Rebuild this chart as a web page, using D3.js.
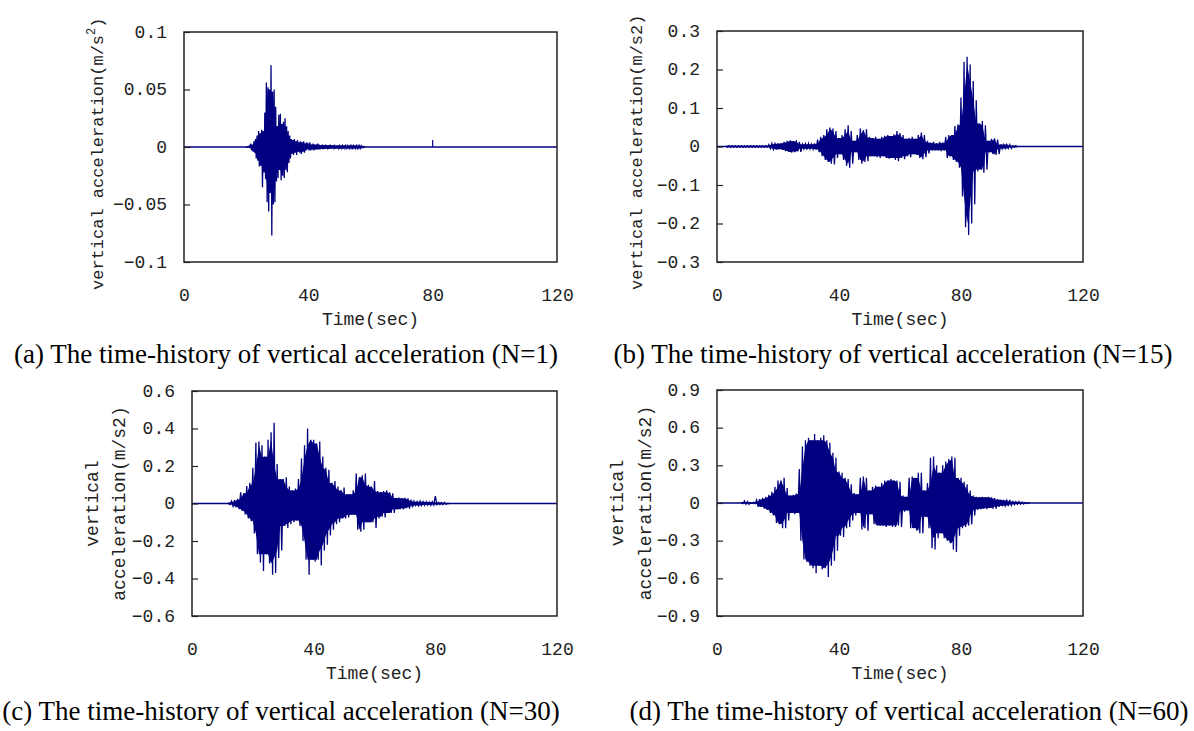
<!DOCTYPE html>
<html>
<head>
<meta charset="utf-8">
<script src="https://cdn.jsdelivr.net/npm/d3@7"></script>
<style>
body { margin: 0; background: #fff; }
svg { display: block; }
.tick text { font-family: "Liberation Mono", monospace; font-size: 18px; fill: #222; }
.axis-label { font-family: "Liberation Mono", monospace; font-size: 18px; fill: #222; }
.caption { font-family: "Liberation Serif", "Times New Roman", serif; font-size: 27px; fill: #000; }
</style>
</head>
<body>
<svg id="chart" width="1194" height="731"></svg>
<script>
//time axis
var timeTicks = [0, 40, 80, 120];

//(a) N=1 : envelope peaks, every 0.5 s from 20 s
var startA = 20, stepA = 0.5;
var hiA = [0, 0, 0.001, 0.003, 0.002, 0.005, 0.007, 0.010, 0.014, 0.012,
    0.015, 0.014, 0.030, 0.056, 0.052, 0.050, 0.071, 0.048, 0.050, 0.035,
    0.018, 0.028, 0.029, 0.020, 0.022, 0.025, 0.018, 0.014, 0.010, 0.007,
    0.006, 0.007, 0.005, 0.006, 0.004, 0.005, 0.004, 0.005, 0.003, 0.004,
    0.003, 0.004, 0.002, 0.003, 0.002, 0.002, 0.003, 0.002, 0.0015, 0.002,
    0.0015, 0.002, 0.0015, 0.0015, 0.002, 0.0015, 0.0015, 0.001, 0.0015, 0.0015,
    0.001, 0.0015, 0.001, 0.0015, 0.001, 0.001, 0.0015, 0.001, 0.001, 0.001,
    0.0015, 0.001, 0.001, 0.001, 0.001, 0.0005, 0];
var loA = [0, 0, -0.001, -0.003, -0.004, -0.005, -0.010, -0.012, -0.017, -0.016,
    -0.035, -0.022, -0.028, -0.048, -0.056, -0.040, -0.077, -0.050, -0.048, -0.030,
    -0.027, -0.020, -0.029, -0.025, -0.027, -0.020, -0.022, -0.014, -0.010, -0.006,
    -0.007, -0.005, -0.007, -0.004, -0.005, -0.006, -0.004, -0.005, -0.003, -0.002,
    -0.003, -0.003, -0.002, -0.003, -0.002, -0.002, -0.002, -0.002, -0.0015, -0.002,
    -0.0015, -0.0015, -0.002, -0.0015, -0.0015, -0.0015, -0.001, -0.0015, -0.0015, -0.001,
    -0.0015, -0.001, -0.0015, -0.001, -0.001, -0.0015, -0.001, -0.001, -0.001, -0.0015,
    -0.001, -0.001, -0.001, -0.001, -0.0005, -0.0005, 0];
var spikesA = [[80, 0.006]];
var yTicksA = [0.1, 0.05, 0, -0.05, -0.1];

//(b) N=15 : every 1 s from 3 s
var startB = 3, stepB = 1;
var hiB = [0.002, 0.002, 0.002, 0.002, 0.002, 0.002, 0.002, 0.002, 0.002, 0.002,
    0.002, 0.002, 0.002, 0.002, 0.005, 0.008, 0.007, 0.008, 0.009, 0.012,
    0.015, 0.016, 0.014, 0.016, 0.012, 0.006, 0.007, 0.008, 0.006, 0.008,
    0.018, 0.025, 0.030, 0.045, 0.049, 0.047, 0.040, 0.022, 0.030, 0.045,
    0.055, 0.040, 0.015, 0.030, 0.047, 0.042, 0.045, 0.025, 0.022, 0.025,
    0.020, 0.025, 0.028, 0.030, 0.027, 0.032, 0.040, 0.035, 0.030, 0.020,
    0.022, 0.025, 0.020, 0.030, 0.036, 0.030, 0.015, 0.010, 0.012, 0.008,
    0.012, 0.010, 0.025, 0.030, 0.030, 0.053, 0.058, 0.127, 0.220, 0.233,
    0.213, 0.170, 0.120, 0.060, 0.066, 0.055, 0.015, 0.020, 0.021, 0.018,
    0.005, 0.005, 0.005, 0.005, 0.002, 0.002];
var loB = [-0.002, -0.002, -0.002, -0.002, -0.002, -0.002, -0.002, -0.002, -0.002, -0.002,
    -0.002, -0.002, -0.002, -0.002, -0.005, -0.007, -0.008, -0.007, -0.009, -0.012,
    -0.014, -0.016, -0.015, -0.013, -0.014, -0.006, -0.008, -0.006, -0.007, -0.008,
    -0.015, -0.025, -0.035, -0.040, -0.045, -0.047, -0.030, -0.020, -0.035, -0.050,
    -0.055, -0.045, -0.015, -0.035, -0.045, -0.040, -0.038, -0.025, -0.025, -0.028,
    -0.030, -0.025, -0.030, -0.032, -0.030, -0.035, -0.038, -0.030, -0.033, -0.025,
    -0.028, -0.020, -0.022, -0.030, -0.033, -0.028, -0.018, -0.010, -0.010, -0.010,
    -0.012, -0.010, -0.030, -0.025, -0.035, -0.040, -0.055, -0.130, -0.210, -0.230,
    -0.200, -0.150, -0.065, -0.060, -0.068, -0.060, -0.015, -0.020, -0.022, -0.020,
    -0.006, -0.005, -0.005, -0.005, -0.002, -0.002];
var spikesB = [];
var yTicksB = [0.3, 0.2, 0.1, 0, -0.1, -0.2, -0.3];

//(c) N=30 : every 1 s from 12 s
var startC = 12, stepC = 1;
var hiC = [0.005, 0.013, 0.018, 0.025, 0.060, 0.055, 0.093, 0.110, 0.190, 0.325,
    0.330, 0.310, 0.250, 0.340, 0.380, 0.430, 0.210, 0.130, 0.130, 0.140,
    0.090, 0.070, 0.080, 0.130, 0.240, 0.310, 0.400, 0.340, 0.340, 0.320,
    0.330, 0.250, 0.190, 0.180, 0.110, 0.120, 0.090, 0.070, 0.085, 0.050,
    0.050, 0.070, 0.160, 0.140, 0.150, 0.160, 0.100, 0.090, 0.120, 0.067,
    0.060, 0.067, 0.070, 0.060, 0.055, 0.030, 0.031, 0.028, 0.030, 0.027,
    0.020, 0.012, 0.010, 0.012, 0.010, 0.010, 0.008, 0.010, 0.040, 0.006,
    0.005, 0.006, 0];
var loC = [-0.005, -0.015, -0.020, -0.030, -0.040, -0.058, -0.080, -0.095, -0.160, -0.270,
    -0.315, -0.360, -0.270, -0.320, -0.380, -0.370, -0.290, -0.250, -0.120, -0.130,
    -0.110, -0.100, -0.090, -0.120, -0.200, -0.300, -0.380, -0.300, -0.310, -0.300,
    -0.330, -0.250, -0.220, -0.170, -0.140, -0.110, -0.100, -0.080, -0.080, -0.075,
    -0.060, -0.060, -0.140, -0.150, -0.140, -0.100, -0.100, -0.100, -0.130, -0.080,
    -0.070, -0.075, -0.050, -0.050, -0.050, -0.030, -0.030, -0.032, -0.025, -0.027,
    -0.020, -0.010, -0.012, -0.010, -0.010, -0.008, -0.010, -0.008, -0.006, -0.005,
    -0.006, -0.005, 0];
var spikesC = [];
var yTicksC = [0.6, 0.4, 0.2, 0, -0.2, -0.4, -0.6];

//(d) N=60 : every 1 s from 8 s
var startD = 8, stepD = 1;
var hiD = [0.005, 0.016, 0.012, 0.004, 0.005, 0.025, 0.030, 0.040, 0.050, 0.065,
    0.090, 0.130, 0.180, 0.180, 0.200, 0.120, 0.060, 0.065, 0.075, 0.270,
    0.450, 0.500, 0.520, 0.500, 0.550, 0.500, 0.520, 0.540, 0.500, 0.480,
    0.400, 0.360, 0.250, 0.240, 0.200, 0.190, 0.150, 0.080, 0.070, 0.200,
    0.210, 0.200, 0.100, 0.130, 0.140, 0.130, 0.160, 0.180, 0.180, 0.190,
    0.180, 0.180, 0.170, 0.060, 0.050, 0.200, 0.210, 0.200, 0.240, 0.240,
    0.100, 0.160, 0.360, 0.370, 0.300, 0.240, 0.300, 0.330, 0.350, 0.370,
    0.360, 0.200, 0.200, 0.170, 0.150, 0.100, 0.060, 0.050, 0.045, 0.050,
    0.045, 0.050, 0.045, 0.040, 0.030, 0.025, 0.025, 0.020, 0.025, 0.012,
    0.010, 0.012, 0.008, 0.004, 0];
var loD = [-0.005, -0.010, -0.010, -0.004, -0.005, -0.030, -0.030, -0.045, -0.055, -0.080,
    -0.100, -0.160, -0.170, -0.200, -0.200, -0.140, -0.080, -0.090, -0.080, -0.300,
    -0.450, -0.470, -0.500, -0.520, -0.560, -0.500, -0.530, -0.520, -0.590, -0.500,
    -0.460, -0.380, -0.260, -0.270, -0.200, -0.190, -0.140, -0.100, -0.080, -0.210,
    -0.200, -0.220, -0.090, -0.170, -0.180, -0.180, -0.180, -0.190, -0.180, -0.190,
    -0.190, -0.180, -0.190, -0.070, -0.060, -0.200, -0.200, -0.220, -0.240, -0.240,
    -0.110, -0.200, -0.360, -0.370, -0.280, -0.240, -0.280, -0.300, -0.320, -0.370,
    -0.390, -0.260, -0.200, -0.190, -0.180, -0.170, -0.100, -0.055, -0.050, -0.045,
    -0.050, -0.040, -0.045, -0.045, -0.030, -0.025, -0.022, -0.025, -0.020, -0.012,
    -0.010, -0.010, -0.008, -0.004, 0];
var spikesD = [];
var yTicksD = [0.9, 0.6, 0.3, 0, -0.3, -0.6, -0.9];

var lineColor = '#000080';
var svg = d3.select('#chart');

var panels = [
    {t0: startA, dt: stepA, hi: hiA, lo: loA, spikes: spikesA, yTicks: yTicksA,
     box: {left: 184, top: 32, right: 557, bottom: 262},
     yLabel: [['vertical acceleration(m/s', '2', ')']], yLabelX: [98], yLabelStart: 290, yLabelSize: 17,
     caption: '(a) The time-history of vertical acceleration (N=1)', capX: 286, capY: 363},
    {t0: startB, dt: stepB, hi: hiB, lo: loB, spikes: spikesB, yTicks: yTicksB,
     box: {left: 717, top: 31, right: 1083, bottom: 262},
     yLabel: [['vertical acceleration(m/s2)']], yLabelX: [637], yLabelStart: 290, yLabelSize: 17,
     caption: '(b) The time-history of vertical acceleration (N=15)', capX: 893, capY: 363},
    {t0: startC, dt: stepC, hi: hiC, lo: loC, spikes: spikesC, yTicks: yTicksC,
     box: {left: 192, top: 391, right: 557, bottom: 616},
     yLabel: [['vertical'], ['acceleration(m/s2)']], yLabelX: [93, 120], yLabelStart: null, yLabelSize: 18,
     caption: '(c) The time-history of vertical acceleration (N=30)', capX: 281, capY: 720},
    {t0: startD, dt: stepD, hi: hiD, lo: loD, spikes: spikesD, yTicks: yTicksD,
     box: {left: 717, top: 390, right: 1083, bottom: 616},
     yLabel: [['vertical'], ['acceleration(m/s2)']], yLabelX: [618, 646], yLabelStart: null, yLabelSize: 18,
     caption: '(d) The time-history of vertical acceleration (N=60)', capX: 909, capY: 720}
];

function fmt(d) {
    return d < 0 ? '\u2212' + Math.abs(d) : String(d);
}

function drawPanel(p) {
    var b = p.box;
    var x = d3.scaleLinear().domain([timeTicks[0], timeTicks[timeTicks.length - 1]]).range([b.left, b.right]);
    var y = d3.scaleLinear().domain(d3.extent(p.yTicks)).range([b.bottom, b.top]);
    var g = svg.append('g');

    var n = p.hi.length;
    var pts = p.hi.map(function(h, i) {
        //dense core: the smaller of neighbouring peaks, so lone peaks stick out as spikes
        var a = Math.max(i - 1, 0), c = Math.min(i + 1, n - 1);
        return {
            t: p.t0 + i * p.dt,
            hi: h,
            lo: p.lo[i],
            coreHi: Math.min(p.hi[a], h, p.hi[c]),
            coreLo: Math.max(p.lo[a], p.lo[i], p.lo[c])
        };
    });

    //zero trace across the record
    g.append('path')
        .attr('d', d3.line()(x.domain().map(function(t) { return [x(t), y(0)]; })))
        .attr('stroke', lineColor)
        .attr('stroke-width', 1.5)
        .attr('fill', 'none');

    g.append('path')
        .datum(pts)
        .attr('d', d3.area()
            .x(function(d) { return x(d.t); })
            .y0(function(d) { return y(d.coreLo); })
            .y1(function(d) { return y(d.coreHi); }))
        .attr('fill', lineColor);

    //oscillation: trace swings from each upper peak to the next lower peak
    var zz = [];
    pts.forEach(function(d) {
        zz.push([x(d.t), y(d.hi)]);
        zz.push([x(d.t + p.dt / 2), y(d.lo)]);
    });
    g.append('path')
        .attr('d', d3.line()(zz))
        .attr('stroke', lineColor)
        .attr('stroke-width', 1.3)
        .attr('fill', 'none');

    p.spikes.forEach(function(s) {
        g.append('line')
            .attr('x1', x(s[0])).attr('x2', x(s[0]))
            .attr('y1', y(0)).attr('y2', y(s[1]))
            .attr('stroke', lineColor)
            .attr('stroke-width', 1.2);
    });

    //axes
    var yAxis = d3.axisLeft(y)
        .tickValues(p.yTicks)
        .tickSize(-6)
        .tickPadding(17)
        .tickFormat(fmt);
    var yG = g.append('g')
        .attr('transform', 'translate(' + b.left + ',0)')
        .call(yAxis);
    yG.select('.domain').remove();
    yG.selectAll('.tick line').attr('stroke', '#222').attr('stroke-width', 1.2);
    yG.selectAll('.tick text').attr('dy', null).attr('dominant-baseline', 'central');

    var xAxis = d3.axisBottom(x)
        .tickValues(timeTicks)
        .tickSize(0)
        .tickPadding(34)
        .tickFormat(function(d) { return d; });
    var xG = g.append('g')
        .attr('transform', 'translate(0,' + b.bottom + ')')
        .call(xAxis);
    xG.select('.domain').remove();
    xG.selectAll('.tick text').attr('dy', null).attr('dominant-baseline', 'central');

    //frame
    g.append('rect')
        .attr('x', b.left)
        .attr('y', b.top)
        .attr('width', b.right - b.left)
        .attr('height', b.bottom - b.top)
        .attr('fill', 'none')
        .attr('stroke', '#222')
        .attr('stroke-width', 1.5);

    g.append('text')
        .attr('class', 'axis-label')
        .attr('x', (b.left + b.right) / 2)
        .attr('y', b.bottom + 58)
        .attr('text-anchor', 'middle')
        .attr('dominant-baseline', 'central')
        .text('Time(sec)');

    //y label, one or two rotated lines
    p.yLabel.forEach(function(parts, i) {
        var cx = p.yLabelX[i],
            cy = p.yLabelStart !== null ? p.yLabelStart : (b.top + b.bottom) / 2;
        var t = g.append('text')
            .attr('class', 'axis-label')
            .style('font-size', p.yLabelSize + 'px')
            .attr('transform', 'translate(' + cx + ',' + cy + ') rotate(-90)')
            .attr('text-anchor', p.yLabelStart !== null ? 'start' : 'middle')
            .attr('dominant-baseline', 'central');
        t.append('tspan').text(parts[0]);
        if (parts.length > 1) {
            t.append('tspan').attr('font-size', '12px').attr('dy', -6).text(parts[1]);
            t.append('tspan').attr('dy', 6).text(parts[2]);
        }
    });

    svg.append('text')
        .attr('class', 'caption')
        .attr('x', p.capX)
        .attr('y', p.capY)
        .attr('text-anchor', 'middle')
        .text(p.caption);
}

panels.forEach(drawPanel);
</script>
</body>
</html>
